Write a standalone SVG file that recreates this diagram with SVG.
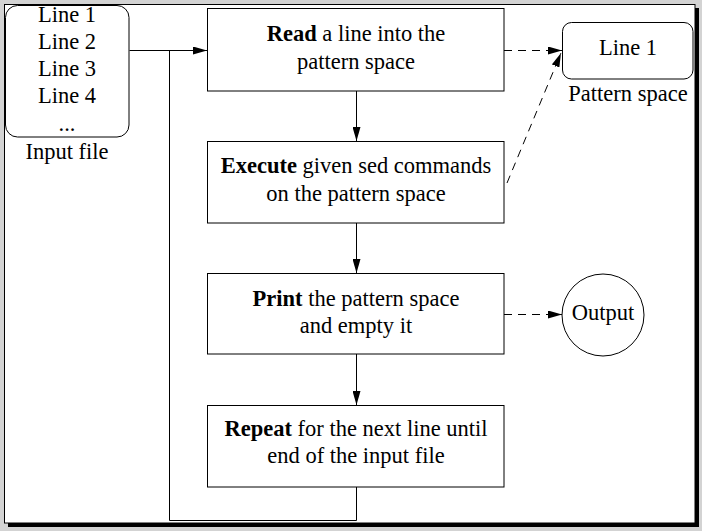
<svg xmlns="http://www.w3.org/2000/svg" width="702" height="531" viewBox="0 0 702 531">
<defs>
<marker id="ah" viewBox="0 0 14 8" refX="14" refY="4" markerWidth="14" markerHeight="8" markerUnits="userSpaceOnUse" orient="auto">
<path d="M0,0 L14,4 L0,8 Z" fill="#000"/>
</marker>
<style>
text{font-family:"Liberation Serif","Times New Roman",serif;font-size:22.5px;fill:#000;text-anchor:middle}
.b{font-weight:bold}
.box{fill:#fff;stroke:#000;stroke-width:1}
.ln{fill:none;stroke:#000;stroke-width:1}
.dash{fill:none;stroke:#000;stroke-width:1;stroke-dasharray:8,6}
</style>
</defs>
<rect x="0" y="0" width="702" height="531" fill="#d3d3d3"/>
<rect x="8" y="8" width="691" height="519" fill="#000"/>
<rect x="4.5" y="4.5" width="690.5" height="518.5" fill="#fff" stroke="#000" stroke-width="1"/>

<g id="connectors">
<path class="ln" d="M129.5,50.5 H207" marker-end="url(#ah)"/>
<path class="ln" d="M356.5,487 V520.5 H169.5 V50.5"/>
<path class="ln" d="M356.5,91 V141" marker-end="url(#ah)"/>
<path class="ln" d="M356.5,223 V273" marker-end="url(#ah)"/>
<path class="ln" d="M356.5,354 V405" marker-end="url(#ah)"/>
<path class="dash" d="M504,50.5 H562" marker-end="url(#ah)"/>
<path class="dash" d="M507,183 L561,53" marker-end="url(#ah)"/>
<path class="dash" d="M504,314.5 H562" marker-end="url(#ah)"/>
</g>

<g id="input-file">
<rect class="box" x="5.5" y="5.5" width="123.5" height="131.5" rx="12"/>
<text x="67" y="22">Line 1</text>
<text x="67" y="49">Line 2</text>
<text x="67" y="76">Line 3</text>
<text x="67" y="103">Line 4</text>
<text x="67" y="131">...</text>
<text x="67" y="159">Input file</text>
</g>

<g id="read">
<rect class="box" x="207.5" y="8.5" width="296.5" height="82.5"/>
<text x="356" y="41"><tspan class="b">Read</tspan> a line into the</text>
<text x="356" y="69">pattern space</text>
</g>

<g id="execute">
<rect class="box" x="207.5" y="141.5" width="296.5" height="81.5"/>
<text x="356" y="173"><tspan class="b">Execute</tspan> given sed commands</text>
<text x="356" y="201">on the pattern space</text>
</g>

<g id="print">
<rect class="box" x="207.5" y="273.5" width="296.5" height="80.5"/>
<text x="356" y="306"><tspan class="b">Print</tspan> the pattern space</text>
<text x="356" y="333">and empty it</text>
</g>

<g id="repeat">
<rect class="box" x="207.5" y="405.5" width="296.5" height="81.5"/>
<text x="356" y="436"><tspan class="b">Repeat</tspan> for the next line until</text>
<text x="356" y="463">end of the input file</text>
</g>

<g id="pattern-space">
<rect class="box" x="562.5" y="22.5" width="130.5" height="56.5" rx="9"/>
<text x="628" y="55">Line 1</text>
<text x="628" y="101">Pattern space</text>
</g>

<g id="output">
<circle class="box" cx="603" cy="315" r="41"/>
<text x="603" y="320">Output</text>
</g>
</svg>
